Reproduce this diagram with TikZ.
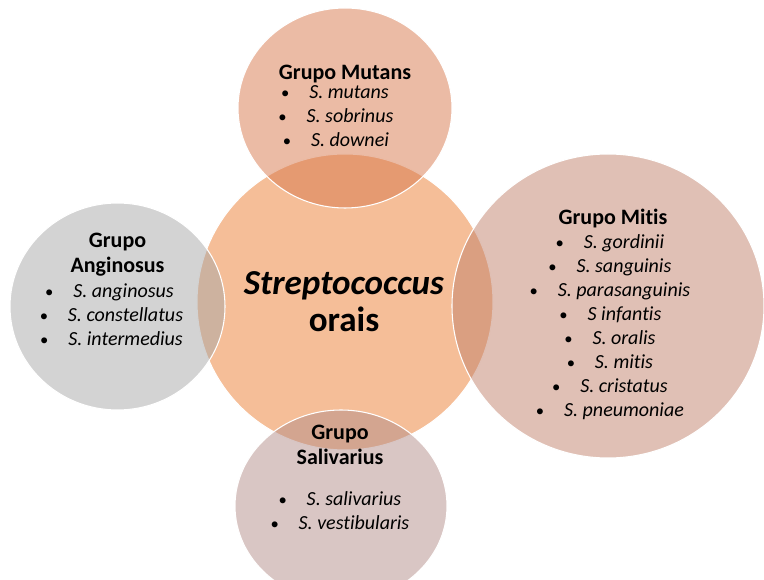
\documentclass[tikz,border=0pt]{standalone}
\usepackage{fontspec}
\setmainfont{Carlito}[Ligatures=NoCommon]
\definecolor{cpeach}{HTML}{F5BE98}
\definecolor{cmutans}{HTML}{D7774B}
\definecolor{cangin}{HTML}{A7A7A7}
\definecolor{cmitis}{HTML}{C1816B}
\definecolor{csaliv}{HTML}{B38D89}
\newcommand{\bitem}[1]{\makebox[6pt][c]{\fontsize{12.5}{12}\selectfont\textbullet}\hspace{15pt}\textit{#1}}
\tikzset{
  blob/.style={draw=white, line width=0.8pt, fill opacity=0.5, draw opacity=1},
  headtxt/.style={anchor=base, inner sep=0pt, font=\fontsize{16.5}{20}\selectfont\bfseries},
  itemtxt/.style={anchor=base, inner sep=0pt, font=\fontsize{15}{18}\selectfont},
  maintxt/.style={anchor=base, inner sep=0pt, font=\fontsize{26.3}{31}\selectfont\bfseries}
}
\begin{document}
\begin{tikzpicture}[x=0.75pt,y=-0.75pt]
\useasboundingbox (0,0) rectangle (764,580);
\begin{scope}
\clip (0,0) rectangle (764,580);
\path[draw=white, line width=0.8pt, fill=cpeach] (345,302) circle [x radius=148, y radius=148];
\path[blob, fill=cmutans] (345,108) circle [x radius=107, y radius=100];
\path[blob, fill=cangin] (117.5,306.5) circle [x radius=107.5, y radius=103.5];
\path[blob, fill=cmitis] (608,306) circle [x radius=156, y radius=152];
\path[blob, fill=csaliv] (341,506) circle [x radius=106, y radius=96];
\end{scope}
% centre
\node[maintxt] (c1) at (344,295) {\textit{Streptococcus}};
\node[maintxt] (c2) at (344,332) {orais};
% Mutans
\node[headtxt] (mu0) at (345,80) {Grupo Mutans};
\node[itemtxt] (mu1) at (335,99) {\bitem{S. mutans}};
\node[itemtxt] (mu2) at (336,123) {\bitem{S. sobrinus}};
\node[itemtxt] (mu3) at (336,147) {\bitem{S. downei}};
% Anginosus
\node[headtxt] (an0) at (117.5,248) {Grupo};
\node[headtxt] (an1) at (117.5,273) {Anginosus};
\node[itemtxt] (an2) at (109.5,298) {\bitem{S. anginosus}};
\node[itemtxt] (an3) at (111.5,322) {\bitem{S. constellatus}};
\node[itemtxt] (an4) at (111.5,346) {\bitem{S. intermedius}};
% Mitis
\node[headtxt] (mi0) at (613,225) {Grupo Mitis};
\node[itemtxt] (mi1) at (610,249) {\bitem{S. gordinii}};
\node[itemtxt] (mi2) at (610,273) {\bitem{S. sanguinis}};
\node[itemtxt] (mi3) at (610,297) {\bitem{S. parasanguinis}};
\node[itemtxt] (mi4) at (610.5,321) {\bitem{S infantis}};
\node[itemtxt] (mi5) at (610,345) {\bitem{S. oralis}};
\node[itemtxt] (mi6) at (610,369) {\bitem{S. mitis}};
\node[itemtxt] (mi7) at (610,393) {\bitem{S. cristatus}};
\node[itemtxt] (mi8) at (610,417) {\bitem{S. pneumoniae}};
% Salivarius
\node[headtxt] (sa0) at (340,440) {Grupo};
\node[headtxt] (sa1) at (340,465) {Salivarius};
\node[itemtxt] (sa2) at (340,506) {\bitem{S. salivarius}};
\node[itemtxt] (sa3) at (340,530) {\bitem{S. vestibularis}};
\end{tikzpicture}
\end{document}
